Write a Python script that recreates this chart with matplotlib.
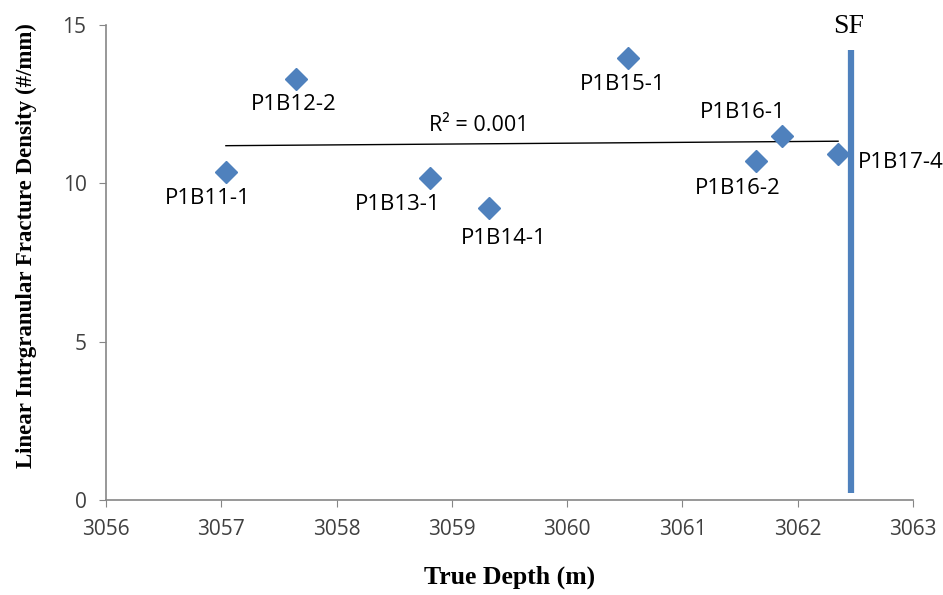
import numpy as np
import matplotlib.pyplot as plt

# sample depths and fracture densities
names = ["P1B11-1", "P1B12-2", "P1B13-1", "P1B14-1", "P1B15-1", "P1B16-1", "P1B16-2", "P1B17-4"]
depth = [3057.04, 3057.65, 3058.81, 3059.32, 3060.53, 3061.86, 3061.64, 3062.35]
density = [10.36, 13.29, 10.17, 9.22, 13.96, 11.49, 10.70, 10.93]
sf_depth = 3062.46

# label offsets in points (dx, dy)
offsets = [(-13, -19), (-2, -18), (-23, -19), (11, -22), (-4, -19), (-28, 17), (-13, -20), (14, -6)]
align = ["center"] * 7 + ["left"]

blue = "#4F81BD"
grey = "#868686"

fig = plt.figure(figsize=(9.43, 5.95), dpi=100)
ax = fig.add_axes([106 / 943, 1 - 500 / 595, (913 - 106) / 943, (500 - 25) / 595])

ax.plot(depth, density, linestyle="none", marker="D", markersize=11, color=blue, zorder=3)

# linear trend line
k, b = np.polyfit(depth, density, 1)
xs = np.array([min(depth), max(depth)])
ax.plot(xs, k * xs + b, color="black", lw=1.0, zorder=2)
ax.text(3059.23, 11.5, "R² = 0.001", fontsize=15.5, family="Open Sans", ha="center", va="bottom")

for n, x, y, (dx, dy), ha in zip(names, depth, density, offsets, align):
    ax.annotate(n, (x, y), xytext=(dx, dy), textcoords="offset points",
                ha=ha, va="center", fontsize=16, family="Open Sans")

# SF boundary
ax.plot([sf_depth, sf_depth], [0.22, 14.2], color=blue, lw=4.5, solid_capstyle="butt", zorder=4)
ax.text(sf_depth - 0.02, 14.55, "SF", fontsize=20, family="Liberation Serif", ha="center", va="bottom")

ax.set_xlim(3056, 3063)
ax.set_ylim(0, 15)
ax.set_xticks(np.arange(3056, 3064, 1))
ax.set_yticks([0, 5, 10, 15])
ax.tick_params(direction="out", length=5, color=grey, labelsize=15, pad=9)
for t in ax.get_xticklabels() + ax.get_yticklabels():
    t.set_family("Open Sans")
    t.set_color("#404040")
for s in ["top", "right"]:
    ax.spines[s].set_visible(False)
for s in ["left", "bottom"]:
    ax.spines[s].set_color(grey)
    ax.spines[s].set_linewidth(1.2)

ax.set_xlabel("True Depth (m)", fontsize=18.5, family="Liberation Serif", fontweight="bold", labelpad=18)
ax.set_ylabel("Linear Intrgranular Fracture Density (#/mm)", fontsize=16.5,
              family="Liberation Serif", fontweight="bold")
ax.yaxis.set_label_coords(-0.085, 0.535)

fig.savefig("out.png", dpi=100)
